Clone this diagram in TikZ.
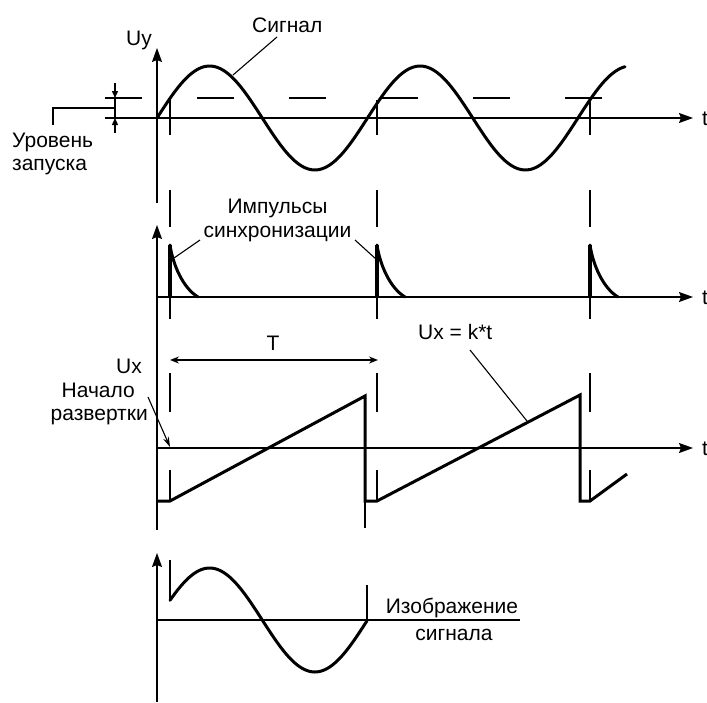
\documentclass[tikz,border=0pt]{standalone}
\usepackage{fontspec}
\setmainfont{Liberation Sans}
\usetikzlibrary{arrows.meta}
\begin{document}
\begin{tikzpicture}[x=1pt,y=-1pt,
  lbl/.style={inner sep=0pt, font=\fontsize{21}{24}\selectfont},
  axisline/.style={line width=1.3pt},
  axarrow/.style={axisline, -{Stealth[length=14pt,width=10pt,inset=2pt]}},
  sigline/.style={line width=3pt, line join=round, line cap=round},
  marker/.style={line width=1.3pt},
  leader/.style={line width=1.1pt},
  smallarrow/.style={marker, -{Triangle[length=7pt,width=6pt]}},
  pulseline/.style={line width=4pt},
]
\useasboundingbox (0,0) rectangle (707,702);

% ---------------- top panel: signal ----------------
\coordinate (yTopS) at (157,203);
\coordinate (yTopE) at (157,48);
\draw[axarrow] (yTopS) -- (yTopE);
\coordinate (tTopS) at (105,118);
\coordinate (tTopE) at (693,118);
\draw[axarrow] (tTopS) -- (tTopE);
\node[lbl, anchor=base west] (tA) at (702,125) {t};
\node[lbl, anchor=base east] (uy) at (152,45) {Uy};

% trigger level (dashed)
\coordinate (lvlS) at (105,98);
\coordinate (lvlE) at (602,98);
\draw[marker, dash pattern=on 37pt off 55pt] (lvlS) -- (lvlE);

% level dimension
\coordinate (dimTop) at (115,83);
\coordinate (dimUp) at (115,98);
\coordinate (dimLo) at (115,118);
\coordinate (dimBot) at (115,133);
\draw[marker] (dimUp) -- (dimLo);
\draw[smallarrow] (dimTop) -- (dimUp);
\draw[smallarrow] (dimBot) -- (dimLo);
\coordinate (dimMid) at (115,108);
\coordinate (lvlCorner) at (53,108);
\coordinate (lvlEnd) at (53,125);
\draw[leader] (dimMid) -- (lvlCorner) -- (lvlEnd);
\node[lbl, anchor=base west] (lvl1) at (12,147) {Уровень};
\node[lbl, anchor=base west] (lvl2) at (12,170) {запуска};

% signal
\draw[sigline] plot[domain=157:625, samples=140, smooth]
  (\x, {118 - 52*sin((\x-157)/210.5*360)});
\node[lbl, anchor=base west] (sig) at (252,32) {Сигнал};
\coordinate (sigA) at (277,37);
\coordinate (sigB) at (233,75);
\draw[leader] (sigA) -- (sigB);

% dashed synchronisation markers
\foreach \xx in {170,377,590}{
  \draw[marker] (\xx,100) -- (\xx,135);
  \draw[marker] (\xx,190) -- (\xx,227);
  \draw[marker] (\xx,297) -- (\xx,319);
  \draw[marker] (\xx,373) -- (\xx,412);
  \draw[marker] (\xx,470) -- (\xx,501);
}

% ---------------- pulse panel ----------------
\coordinate (yPulS) at (157,530);
\coordinate (yPulE) at (157,225);
\draw[axarrow] (yPulS) -- (yPulE);
\coordinate (tPulS) at (157,297);
\coordinate (tPulE) at (693,297);
\draw[axarrow] (tPulS) -- (tPulE);
\node[lbl, anchor=base west] (tB) at (702,304) {t};

\foreach \xx in {170,377,590}{
  \draw[pulseline] (\xx,297) -- (\xx,245);
  \draw[sigline] (\xx,245) .. controls ({\xx+3},265) and ({\xx+13},288) .. ({\xx+28},297);
}
\node[lbl, anchor=base] (imp1) at (277.5,213) {Импульсы};
\node[lbl, anchor=base] (imp2) at (277.5,237) {синхронизации};
\coordinate (impLa) at (200,240);
\coordinate (impLb) at (174,258);
\coordinate (impRa) at (355,240);
\coordinate (impRb) at (377,260);
\draw[leader] (impLa) -- (impLb);
\draw[leader] (impRa) -- (impRb);

% period T
\coordinate (Ta) at (170,360);
\coordinate (Tb) at (378,360);
\draw[marker, {Stealth[length=9pt,width=7pt]}-{Stealth[length=9pt,width=7pt]}] (Ta) -- (Tb);
\node[lbl, anchor=base] (Tlbl) at (273,350) {T};

% ---------------- sweep panel ----------------
\coordinate (tUxS) at (157,448);
\coordinate (tUxE) at (693,448);
\draw[axarrow] (tUxS) -- (tUxE);
\node[lbl, anchor=base west] (tC) at (702,455) {t};
\node[lbl, anchor=base east] (ux) at (142,373) {Ux};
\node[lbl, anchor=base east] (nach1) at (135,397) {Начало};
\node[lbl, anchor=base east] (nach2) at (148,420) {развертки};
\coordinate (nachA) at (148,397);
\coordinate (nachB) at (170,447);
\draw[leader, -{Stealth[length=10pt,width=6pt]}] (nachA) -- (nachB);

\draw[sigline, line join=miter, line cap=butt] (157,501) -- (170,501) -- (365,396) -- (365,501)
  -- (377,501) -- (580,395) -- (580,501) -- (590,501) -- (627,474);
\draw[marker] (365,501) -- (365,528);

\node[lbl, anchor=base west] (uxk) at (418,339) {Ux = k*t};
\coordinate (uxkA) at (470,350);
\coordinate (uxkB) at (527,421);
\draw[leader] (uxkA) -- (uxkB);

% ---------------- image panel ----------------
\coordinate (yImS) at (157,702);
\coordinate (yImE) at (157,553);
\draw[axarrow] (yImS) -- (yImE);
\coordinate (hImS) at (157,620);
\coordinate (hImE) at (520,620);
\draw[axisline] (hImS) -- (hImE);
\draw[marker] (170,560) -- (170,599);
\draw[marker] (367,585) -- (367,620);
\draw[sigline] plot[domain=170:367, samples=80, smooth]
  (\x, {620 - 52*sin((\x-157)/210.5*360)});
\node[lbl, anchor=base] (img1) at (452,613) {Изображение};
\node[lbl, anchor=base] (img2) at (454,640) {сигнала};
\end{tikzpicture}
\end{document}
